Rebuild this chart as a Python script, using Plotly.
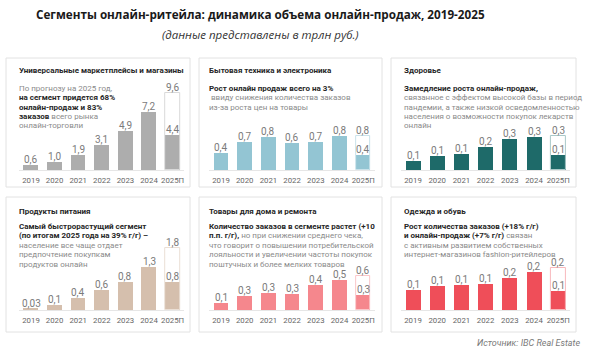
import plotly.graph_objects as go

W, H = 591, 352

years = ["2019", "2020", "2021", "2022", "2023", "2024", "2025П"]

# Panel titles
titles = [
    "Универсальные маркетплейсы и магазины",
    "Бытовая техника и электроника",
    "Здоровье",
    "Продукты питания",
    "Товары для дома и ремонта",
    "Одежда и обувь",
]

# bar heights, labels (as printed)
values_univ = [0.6, 1.0, 1.9, 3.1, 4.9, 7.2, 4.4]
labels_univ = ["0,6", "1,0", "1,9", "3,1", "4,9", "7,2", "4,4"]
total_univ, total_univ_label = 9.6, "9,6"

values_tech = [0.41, 0.67, 0.78, 0.64, 0.67, 0.80, 0.35]
labels_tech = ["0,4", "0,7", "0,8", "0,6", "0,7", "0,8", "0,4"]
total_tech, total_tech_label = 0.80, "0,8"

values_health = [0.085, 0.13, 0.145, 0.21, 0.28, 0.30, 0.14]
labels_health = ["0,1", "0,1", "0,1", "0,2", "0,3", "0,3", "0,1"]
total_health, total_health_label = 0.31, "0,3"

values_food = [0.04, 0.14, 0.36, 0.60, 0.85, 1.30, 0.85]
labels_food = ["0,03", "0,1", "0,4", "0,6", "0,8", "1,3", "0,8"]
total_food, total_food_label = 1.87, "1,8"

values_home = [0.12, 0.24, 0.28, 0.26, 0.41, 0.50, 0.25]
labels_home = ["0,1", "0,3", "0,3", "0,3", "0,4", "0,5", "0,3"]
total_home, total_home_label = 0.56, "0,6"

values_cloth = [0.105, 0.125, 0.13, 0.137, 0.168, 0.20, 0.10]
labels_cloth = ["0,1", "0,1", "0,1", "0,1", "0,2", "0,2", "0,1"]
total_cloth, total_cloth_label = 0.22, "0,2"

texts_univ = [
    "По прогнозу на 2025 год,",
    "<b>на сегмент придется 68%</b>",
    "<b>онлайн-продаж и 83%</b>",
    "<b>заказов</b> <span style='color:#8a8a8a'>всего рынка</span>",
    "онлайн-торговли",
]
texts_tech = [
    "<b>Рост онлайн продаж всего на 3%</b>",
    "&nbsp;ввиду снижения количества заказов",
    "из-за роста цен на товары",
]
texts_health = [
    "<b>Замедление роста онлайн-продаж,</b>",
    "связанное с эффектом высокой базы в период",
    "пандемии, а также низкой осведомленностью",
    "населения о возможности покупок лекарств",
    "онлайн",
]
texts_food = [
    "<b>Самый быстрорастущий сегмент</b>",
    "<b>(по итогам 2025 года на 39% г/г) –</b>",
    "население все чаще отдает",
    "предпочтение покупкам",
    "продуктов онлайн",
]
texts_home = [
    "<b>Количество заказов в сегменте растет (+10</b>",
    "<b>п.п. г/г),</b> <span style='color:#8a8a8a'>но при снижении среднего чека,</span>",
    "что говорит о повышении потребительской",
    "лояльности и увеличении частоты покупок",
    "поштучных и более мелких товаров",
]
texts_cloth = [
    "<b>Рост количества заказов (+18% г/г)</b>",
    "<b>и онлайн-продаж (+7% г/г)</b> <span style='color:#8a8a8a'>связан</span>",
    "с активным развитием собственных",
    "интернет-магазинов fashion-ритейлеров",
]

panels = [
    (values_univ, labels_univ, total_univ, total_univ_label, texts_univ),
    (values_tech, labels_tech, total_tech, total_tech_label, texts_tech),
    (values_health, labels_health, total_health, total_health_label, texts_health),
    (values_food, labels_food, total_food, total_food_label, texts_food),
    (values_home, labels_home, total_home, total_home_label, texts_home),
    (values_cloth, labels_cloth, total_cloth, total_cloth_label, texts_cloth),
]

# ---- styling / layout (pixels) ----
bar_colors = ["#adadad", "#93c5d3", "#1e6a69", "#d5bfad", "#f5878d", "#ef4e59"]
outline_colors = ["#d9d9d9", "#c9e2ea", "#a9c9c9", "#ebdfd5", "#fbc6c9", "#f8b8bc"]
px_per_unit = [8.05, 42.5, 110, 33.3, 60, 190]

col_box = [(6, 190), (199, 382), (391, 576)]
row_box = [(58, 187), (197, 332)]
baseline = [170, 310]
plot_top = [60, 200]
text_x = [17, 207, 402]
bar_first = [31, 221, 413]
bar_step = [23.6, 23.7, 24.2]
title_y = [71, 211]
text_y0 = [88, 226]
line_h = 9.5

BORDER = "#e2e2e2"
DARK = "#262626"
GRAY = "#8a8a8a"
LABEL = "#7b7b7b"
FONT = "Roboto"


def px(x):
    return x / W


def py(y):
    return 1 - y / H


fig = go.Figure()
shapes = []
annotations = []

for i, (vals, labs, tot, totlab, texts) in enumerate(panels):
    r, c = divmod(i, 3)
    sfx = "" if i == 0 else str(i + 1)
    xa, ya = "x" + sfx, "y" + sfx

    # panel frame
    shapes.append(dict(type="rect", xref="paper", yref="paper",
                       x0=px(col_box[c][0]), x1=px(col_box[c][1]),
                       y0=py(row_box[r][1]), y1=py(row_box[r][0]),
                       line=dict(color=BORDER, width=1), fillcolor="white", layer="below"))

    # main bars
    fig.add_trace(go.Bar(x=years, y=vals, xaxis=xa, yaxis=ya, width=0.62,
                         marker=dict(color=bar_colors[i], line=dict(width=0)),
                         showlegend=False))
    # forecast outline bar
    fig.add_trace(go.Bar(x=[years[-1]], y=[tot], xaxis=xa, yaxis=ya, width=0.62,
                         marker=dict(color="rgba(255,255,255,0)",
                                     line=dict(color=outline_colors[i], width=1)),
                         hoverinfo="skip", showlegend=False))

    x0 = bar_first[c] - bar_step[c] / 2
    x1 = x0 + 7 * bar_step[c]
    ymax = (baseline[r] - plot_top[r]) / px_per_unit[i]
    fig.layout["xaxis" + sfx] = dict(domain=[px(x0), px(x1)], anchor=ya,
                                     type="category", categoryorder="array",
                                     categoryarray=years, range=[-0.5, 6.5],
                                     tickangle=0,
                                     showgrid=False, zeroline=False, showline=True,
                                     linecolor="#e6e6e6", linewidth=1, ticks="",
                                     tickfont=dict(family=FONT, size=7.8, color="#666666"),
                                     ticklabelstandoff=3, fixedrange=True)
    fig.layout["yaxis" + sfx] = dict(domain=[py(baseline[r]), py(plot_top[r])], anchor=xa,
                                     range=[0, ymax], visible=False, fixedrange=True)

    # value labels
    for k, (v, lab) in enumerate(zip(vals, labs)):
        annotations.append(dict(x=k, y=v, xref=xa, yref=ya, text=lab, showarrow=False,
                                yanchor="bottom", yshift=-2,
                                font=dict(family=FONT, size=10, color=LABEL)))
    annotations.append(dict(x=len(years) - 1, y=tot, xref=xa, yref=ya, text=totlab,
                            showarrow=False, yanchor="bottom", yshift=-2,
                            font=dict(family=FONT, size=10, color=LABEL)))

    # panel title
    annotations.append(dict(x=px(text_x[c]), y=py(title_y[r]), xref="paper", yref="paper",
                            text="<b>" + titles[i] + "</b>", showarrow=False,
                            xanchor="left", yanchor="middle",
                            font=dict(family=FONT, size=8, color=DARK)))
    # description lines
    for k, t in enumerate(texts):
        color = DARK if t.startswith("<b>") else GRAY
        annotations.append(dict(x=px(text_x[c]), y=py(text_y0[r] + k * line_h),
                                xref="paper", yref="paper", text=t, showarrow=False,
                                xanchor="left", yanchor="middle", align="left",
                                font=dict(family=FONT, size=8, color=color)))

annotations.append(dict(x=px(260), y=py(14), xref="paper", yref="paper",
                        text="<b>Сегменты онлайн-ритейла: динамика объема онлайн-продаж, 2019-2025</b>",
                        showarrow=False, xanchor="center", yanchor="middle",
                        font=dict(family="Open Sans", size=11.7, color="#1a1a1a")))
annotations.append(dict(x=px(260), y=py(35), xref="paper", yref="paper",
                        text="<i>(данные представлены в трлн руб.)</i>",
                        showarrow=False, xanchor="center", yanchor="middle",
                        font=dict(family="Open Sans", size=11.5, color="#333333")))
annotations.append(dict(x=px(582), y=py(343), xref="paper", yref="paper",
                        text="<i>Источник: IBC Real Estate</i>",
                        showarrow=False, xanchor="right", yanchor="middle",
                        font=dict(family=FONT, size=9, color="#7a7a7a")))

fig.update_layout(width=W, height=H, margin=dict(l=0, r=0, t=0, b=0),
                  paper_bgcolor="white", plot_bgcolor="rgba(0,0,0,0)",
                  barmode="overlay", bargap=0, shapes=shapes, annotations=annotations,
                  showlegend=False)

fig.write_html("out.html", config={"displayModeBar": False})
